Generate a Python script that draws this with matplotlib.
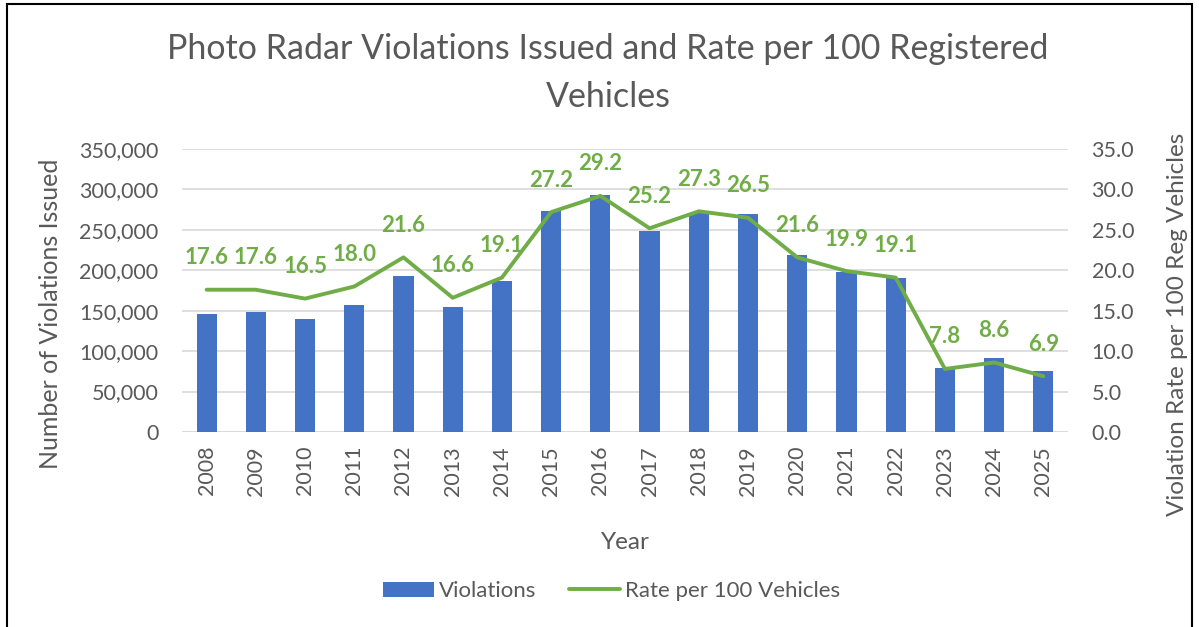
import matplotlib.pyplot as plt
from matplotlib.patches import Rectangle
from matplotlib.ticker import FuncFormatter

plt.rcParams['font.family'] = ['Lato', 'DejaVu Sans']

# data
years = [str(y) for y in range(2008, 2026)]
violations = [146000, 148800, 140100, 156700, 192900, 155000, 186400, 273300, 293500,
              249000, 271200, 270000, 219300, 198300, 190800, 79500, 91100, 75400]
rate = [17.6, 17.6, 16.5, 18.0, 21.6, 16.6, 19.1, 27.2, 29.2,
        25.2, 27.3, 26.5, 21.6, 19.9, 19.1, 7.8, 8.6, 6.9]

blue = "#4472C4"
green = "#70AD47"
gray = "#595959"

fig = plt.figure(figsize=(11.99, 6.27), dpi=100)
ax = fig.add_axes([0.1518, 0.311, 0.7389, 0.4513])
ax2 = ax.twinx()

x = list(range(len(years)))
ax.bar(x, violations, width=0.41, color=blue, label="Violations", zorder=2)
ax2.plot(x, rate, color=green, lw=2.8, label="Rate per 100 Vehicles", zorder=3,
         solid_capstyle="round", solid_joinstyle="round")

for xi, r in zip(x, rate):
    ax2.annotate(f"{r:.1f}", (xi, r), xytext=(0, 32), textcoords="offset pixels",
                 ha="center", va="center", color=green, fontsize=16, fontweight="bold")

ax.set_xlim(-0.5, len(years) - 0.5)
ax.set_ylim(0, 350000)
ax2.set_ylim(0, 35)
ax.set_yticks(range(0, 350001, 50000))
ax2.set_yticks([i * 5 for i in range(8)])
ax.yaxis.set_major_formatter(FuncFormatter(lambda v, p: f"{int(v):,}"))
ax2.yaxis.set_major_formatter(FuncFormatter(lambda v, p: f"{v:.1f}"))

ax.set_xticks(x)
ax.set_xticklabels(years, rotation=90)
ax.grid(axis="y", color="#D9D9D9", lw=1.2, zorder=0)
ax.set_axisbelow(True)

for a in (ax, ax2):
    for s in ("top", "left", "right", "bottom"):
        a.spines[s].set_visible(False)
    a.tick_params(length=0, colors=gray, labelsize=15.5)
ax.axhline(0, color="#D9D9D9", lw=1.2, zorder=1)
ax.tick_params(axis="y", pad=17)
ax2.tick_params(axis="y", pad=17)
ax.tick_params(axis="x", pad=10)

ax.set_ylabel("Number of Violations Issued", color=gray, fontsize=18, va="center")
ax2.set_ylabel("Violation Rate per 100 Reg Vehicles", color=gray, fontsize=17.5, va="center")
ax.yaxis.set_label_coords(-0.148, 0.417)
ax2.yaxis.set_label_coords(1.124, 0.38)
ax.set_xlabel("Year", color=gray, fontsize=17.5, labelpad=26)

fig.text(0.507, 0.884, "Photo Radar Violations Issued and Rate per 100 Registered\nVehicles",
         ha="center", va="center", fontsize=24.5, color=gray, linespacing=1.6)

h1, l1 = ax.get_legend_handles_labels()
h2, l2 = ax2.get_legend_handles_labels()
fig.legend(h1 + h2, l1 + l2, loc="center", bbox_to_anchor=(0.51, 0.057), ncol=2,
           frameon=False, fontsize=16, labelcolor=gray, handlelength=2.3,
           columnspacing=1.5, handletextpad=0.2)

fig.patches.append(Rectangle((0.006, -0.05), 0.988, 1.043, transform=fig.transFigure,
                             fill=False, edgecolor="black", lw=1.5))

fig.savefig("out.png", dpi=100)
